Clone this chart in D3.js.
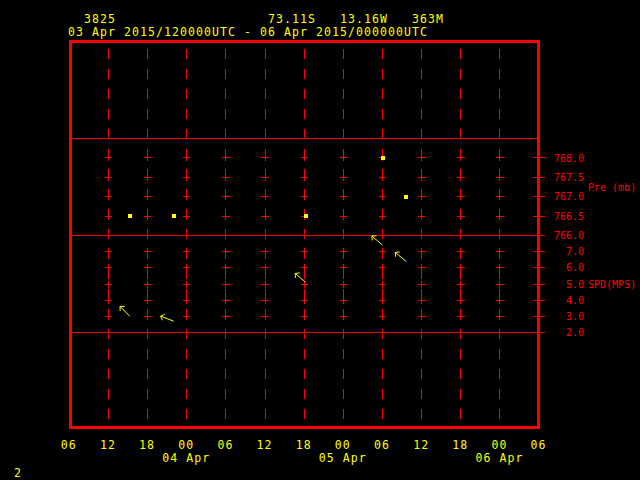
<!DOCTYPE html>
<html><head><meta charset="utf-8">
<script src="https://cdn.jsdelivr.net/npm/d3@7"></script>
<style>html,body{margin:0;padding:0;background:#000;} svg{display:block;}</style>
</head><body>
<script>
// ---- header text ----
const stationId = "3825";
const stationLat = "73.11S";
const stationLon = "13.16W";
const stationElev = "363M";
const periodLabel = "03 Apr 2015/120000UTC - 06 Apr 2015/000000UTC";
const frameNumber = "2";

// ---- time axis ----
const timeStart = "2015-04-03T06:00:00Z";
const timeEnd = "2015-04-06T06:00:00Z";
const hourTickLabels = ["06","12","18","00","06","12","18","00","06","12","18","00","06"];
const dayLabels = ["04 Apr","05 Apr","06 Apr"];
const dayLabelTimes = ["2015-04-04T00:00:00Z","2015-04-05T00:00:00Z","2015-04-06T00:00:00Z"];

// ---- observations ----
const obsTimes = ["2015-04-03T15:18:00Z","2015-04-03T22:00:00Z","2015-04-04T18:15:00Z","2015-04-05T06:00:00Z","2015-04-05T09:36:00Z"];
const pressure = [766.5, 766.5, 766.5, 768.0, 767.0];   // mb
const windSpeed = [3.0, 2.7, 5.1, 7.4, 6.4];            // m/s
const windDir = [135, 111, 130, 131, 130];              // degrees (from)

// ---- y ticks ----
const presTicks = [766.0, 766.5, 767.0, 767.5, 768.0];
const presTickLabels = ["766.0","766.5","767.0","767.5","768.0"];
const spdTicks = [2, 3, 4, 5, 6, 7];
const spdTickLabels = ["2.0","3.0","4.0","5.0","6.0","7.0"];
const presTitle = "Pre (mb)";
const spdTitle = "SPD(MPS)";

const RED = "#ff0000", YEL = "#ffff00";
const FONT = "'DejaVu Sans Mono', 'Liberation Mono', monospace";
const BIG = 11.5, BIGLS = 8 - BIG * 0.602; // keep 8px character advance

const svg = d3.select("body").append("svg").attr("width", 640).attr("height", 480)
  .style("background", "#000");

const t0 = new Date(timeStart), t1 = new Date(timeEnd);
const x = d3.scaleUtc().domain([t0, t1]).range([69.3, 539.1]);
const yP = d3.scaleLinear().domain([766, 768.5]).range([235.5, 138.5]);
const yS = d3.scaleLinear().domain([2, 8]).range([332.5, 235.5]);

const tickTimes = d3.utcHour.every(6).range(t0, new Date(+t1 + 1));
const interior = tickTimes.slice(1, -1);

const frameTop = 41, frameBot = 427.5, frameL = 70.3, frameR = 538.7;

const g = svg.append("g").attr("shape-rendering", "crispEdges");

// dashed vertical grid lines
g.selectAll("line.vgrid").data(interior).join("line")
  .attr("x1", d => x(d)).attr("x2", d => x(d))
  .attr("y1", 49).attr("y2", 419)
  .attr("stroke", RED).attr("stroke-width", 1).attr("stroke-dasharray", "10,10");

// panel dividers
[yP(768.5), yP(766), yS(2)].forEach(yy => {
  g.append("line").attr("x1", frameL).attr("x2", frameR).attr("y1", yy).attr("y2", yy)
    .attr("stroke", RED).attr("stroke-width", 1);
});

// crosses at tick values
const crossY = presTicks.filter(v => v > 766).map(v => yP(v)).concat(spdTicks.filter(v => v > 2).map(v => yS(v)));
interior.forEach(t => {
  crossY.forEach(yy => {
    g.append("line").attr("x1", x(t) - 3.7).attr("x2", x(t) + 3.7).attr("y1", yy).attr("y2", yy)
      .attr("stroke", RED).attr("stroke-width", 1);
    g.append("line").attr("x1", x(t)).attr("x2", x(t)).attr("y1", yy - 3.5).attr("y2", yy + 3.5)
      .attr("stroke", RED).attr("stroke-width", 1);
  });
});

// right axis ticks
presTicks.forEach(v => g.append("line").attr("x1", 533).attr("x2", 545).attr("y1", yP(v)).attr("y2", yP(v))
  .attr("stroke", RED).attr("stroke-width", 1));
spdTicks.forEach(v => g.append("line").attr("x1", 533).attr("x2", 545).attr("y1", yS(v)).attr("y2", yS(v))
  .attr("stroke", RED).attr("stroke-width", 1));

// frame
g.append("rect").attr("x", frameL).attr("y", frameTop).attr("width", frameR - frameL).attr("height", frameBot - frameTop)
  .attr("fill", "none").attr("stroke", RED).attr("stroke-width", 3);

// right labels
presTicks.forEach((v, i) => svg.append("text").attr("x", 584).attr("y", yP(v) + 3.6)
  .attr("text-anchor", "end").attr("font-family", FONT).attr("font-size", 10).attr("fill", RED).text(presTickLabels[i]));
spdTicks.forEach((v, i) => svg.append("text").attr("x", 584).attr("y", yS(v) + 3.6)
  .attr("text-anchor", "end").attr("font-family", FONT).attr("font-size", 10).attr("fill", RED).text(spdTickLabels[i]));
svg.append("text").attr("x", 588).attr("y", 190.5).attr("font-family", FONT).attr("font-size", 10)
  .attr("fill", RED).text(presTitle);
svg.append("text").attr("x", 588).attr("y", 288).attr("font-family", FONT).attr("font-size", 10)
  .attr("fill", RED).text(spdTitle);

// pressure squares
const obs = obsTimes.map((t, i) => ({t: new Date(t), p: pressure[i], s: windSpeed[i], d: windDir[i]}));
svg.append("g").attr("shape-rendering", "crispEdges").selectAll("rect").data(obs).join("rect")
  .attr("x", d => Math.round(x(d.t) - 2)).attr("y", d => Math.round(yP(d.p) - 2))
  .attr("width", 4).attr("height", 4).attr("fill", YEL);

// wind arrows (tail at observation, fixed length, pointing downwind)
const L = 14, HL = 4.5;
const ag = svg.append("g").attr("stroke", YEL).attr("stroke-width", 1).attr("fill", "none");
obs.forEach(d => {
  const bx = x(d.t), by = yS(d.s);
  const b = (d.d + 180) * Math.PI / 180;
  const ux = Math.sin(b), uy = -Math.cos(b);
  const hx = bx + ux * L, hy = by + uy * L;
  const back = Math.atan2(-uy, -ux);
  const p1 = [hx + HL * Math.cos(back + Math.PI / 4), hy + HL * Math.sin(back + Math.PI / 4)];
  const p2 = [hx + HL * Math.cos(back - Math.PI / 4), hy + HL * Math.sin(back - Math.PI / 4)];
  ag.append("path").attr("d", `M${bx},${by}L${hx},${hy}M${p1[0]},${p1[1]}L${hx},${hy}L${p2[0]},${p2[1]}`);
});

const bigText = (sel) => sel.attr("font-family", FONT).attr("font-size", BIG)
  .attr("letter-spacing", BIGLS).attr("fill", YEL);

// bottom axis labels
bigText(svg.selectAll("text.hour").data(tickTimes).join("text")
  .attr("x", d => x(d) - 0.5).attr("y", 449).attr("text-anchor", "middle"))
  .text((d, i) => hourTickLabels[i]);
dayLabelTimes.forEach((t, i) => bigText(svg.append("text").attr("x", x(new Date(t)) - 0.5).attr("y", 462)
  .attr("text-anchor", "middle")).text(dayLabels[i]));

// header
const hdr = (txt, xx, yy) => bigText(svg.append("text").attr("x", xx).attr("y", yy)).text(txt);
hdr(stationId, 84, 23);
hdr(stationLat, 268, 23);
hdr(stationLon, 340, 23);
hdr(stationElev, 412, 23);
hdr(periodLabel, 68, 36);
hdr(frameNumber, 14, 477);
</script>
</body></html>
